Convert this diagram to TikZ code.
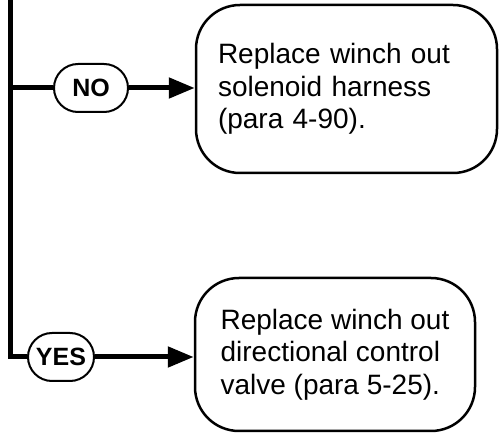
\documentclass[tikz,border=0pt]{standalone}
\usepackage{fontspec}
\setmainfont{Liberation Sans}
\usetikzlibrary{arrows.meta}
\begin{document}
\begin{tikzpicture}[x=1pt,y=-1pt,
  pill/.style={draw, line width=2pt, rounded corners=24pt, minimum width=74pt, minimum height=48pt, inner sep=0pt, font=\fontsize{25}{25}\selectfont\bfseries},
  actbox/.style={draw, line width=2.5pt, rounded corners=44pt, align=left, inner ysep=0pt, font=\fontsize{28}{32.5}\selectfont},
  trunk/.style={line width=5pt},
  flow/.style={line width=5pt, -{Triangle[length=26pt,width=20pt]}}]
\useasboundingbox (0,0) rectangle (499,433);
\node[pill] (no) at (91,88) {NO};
\node[pill, minimum width=66pt] (yes) at (61,357) {YES};
\node[actbox, text width=257pt, inner xsep=22pt, minimum height=168pt] (nobox) at (346.5,89) {Replace winch out\\solenoid harness\\(para 4-90).};
\node[actbox, minimum width=280pt, minimum height=153pt] (yesbox) at (335,354.5) {Replace winch out\\directional control\\valve (para 5-25).};
\coordinate (top) at (10,0);
\coordinate (corner) at (10,357);
\coordinate (branch) at (10,88);
\draw[trunk] (top) -- (corner) -- (yes.west);
\draw[trunk] (branch) -- (no.west);
\draw[flow] (no.east) -- (no.east -| nobox.west);
\draw[flow] (yes.east) -- (yes.east -| yesbox.west);
\end{tikzpicture}
\end{document}
